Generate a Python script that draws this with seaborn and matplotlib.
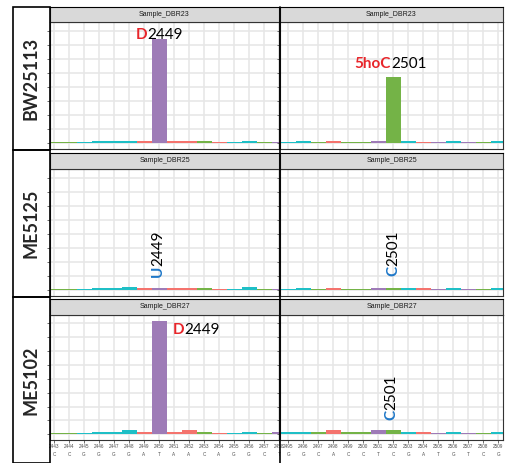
import pandas as pd
import matplotlib.pyplot as plt
import seaborn as sns
from matplotlib.patches import Rectangle
from matplotlib.lines import Line2D

strains = ["BW25113", "ME5125", "ME5102"]
samples = ["Sample_DBR23", "Sample_DBR25", "Sample_DBR27"]

left_pos = [2443, 2444, 2445, 2446, 2447, 2448, 2449, 2450,
            2451, 2452, 2453, 2454, 2455, 2456, 2457, 2458]
left_bases = ["C", "C", "G", "G", "G", "G", "A", "T",
              "A", "A", "C", "A", "G", "G", "C", "T"]
right_pos = [2495, 2496, 2497, 2498, 2499, 2500, 2501, 2502,
             2503, 2504, 2505, 2506, 2507, 2508, 2509]
right_bases = ["G", "G", "C", "A", "C", "C", "T", "C",
               "G", "A", "T", "G", "T", "C", "G"]

# signal per position (%), one list per panel
dbr23_left = [0.8, 0.8, 0.9, 1.8, 1.8, 1.8, 1.8, 74.0, 1.8, 1.8, 1.8, 0.8, 0.9, 1.8, 0.9, 0.9]
dbr23_right = [0.9, 1.8, 0.9, 1.8, 1.2, 1.2, 1.6, 47.0, 1.8, 0.8, 0.9, 1.8, 0.9, 0.9, 1.8]
dbr25_left = [0.8, 0.8, 0.9, 1.8, 1.6, 2.4, 1.8, 1.6, 1.8, 1.8, 1.6, 0.8, 0.9, 2.0, 1.2, 0.9]
dbr25_right = [1.2, 1.4, 1.2, 1.4, 1.2, 1.2, 1.4, 1.7, 1.4, 1.4, 0.9, 1.4, 0.9, 0.9, 1.4]
dbr27_left = [0.8, 0.8, 0.9, 2.0, 2.0, 3.2, 2.0, 82.0, 2.0, 3.2, 2.0, 0.8, 0.9, 2.0, 0.9, 1.7]
dbr27_right = [1.4, 1.4, 1.4, 3.2, 1.7, 1.7, 3.2, 3.2, 1.7, 2.0, 0.9, 1.7, 0.9, 0.9, 1.7]

# site labels: modification, site, colour of modification, x, y, vertical
site_mods = [["D", "5hoC"], ["U", "C"], ["D", "C"]]
site_nums = [["2449", "2501"], ["2449", "2501"], ["2449", "2501"]]
site_cols = [["#E8262B", "#E8262B"], ["#1F78C8", "#1F78C8"], ["#E8262B", "#1F78C8"]]
site_x = [[2449.2, 2501.84], [2449.95, 2502.0], [2451.66, 2501.85]]
site_y = [[74.3, 53.4], [17.5, 17.5], [72.3, 17.8]]
site_vert = [[False, False], [True, True], [False, True]]

palette = {"A": "#F4736D", "C": "#74B347", "G": "#1FBFC6", "T": "#9E7BB7"}

sns.set_style("whitegrid")
plt.rcParams['font.family'] = ['Lato', 'DejaVu Sans']

W, H = 508, 463
fig = plt.figure(figsize=(W / 100, H / 100), dpi=100)


def rect(x0, y0, x1, y1):
    return [x0 / W, 1 - y1 / H, (x1 - x0) / W, (y1 - y0) / H]


panel_y = [(22, 149), (169, 296), (315, 440)]
strip_y = [(7, 22), (153, 169), (299, 315)]
col_x = [(50, 279), (280, 503)]
xlims = [(2442.73, 2458.0), (2494.45, 2509.3)]
box_y = [(7, 150), (150, 297), (297, 463)]

values = [[dbr23_left, dbr23_right], [dbr25_left, dbr25_right], [dbr27_left, dbr27_right]]
positions = [left_pos, right_pos]
bases = [left_bases, right_bases]

for r in range(3):
    for c in range(2):
        df = pd.DataFrame({"pos": positions[c], "base": bases[c], "signal": values[r][c]})
        ax = fig.add_axes(rect(col_x[c][0], panel_y[r][0], col_x[c][1], panel_y[r][1]))
        sns.barplot(data=df, x="pos", y="signal", hue="base", palette=palette,
                    native_scale=True, width=1, dodge=False, saturation=1,
                    errorbar=None, legend=False, ax=ax,
                    edgecolor="none", linewidth=0)
        ax.set_xlim(*xlims[c])
        ax.set_ylim(-4.1, 86.1)
        ax.set_yticks(range(0, 90, 10))
        ax.set_xticks(positions[c])
        ax.grid(True, color="#E6E6E6", linewidth=1.1)
        ax.set_axisbelow(True)
        ax.set_xlabel("")
        ax.set_ylabel("")
        ax.set_yticklabels([])
        ax.tick_params(axis="y", length=2, width=0.5, color="#333333", left=True)
        if r == 2:
            ax.set_xticklabels([f"{p}\n{b}" for p, b in zip(positions[c], bases[c])],
                               fontsize=3.3, color="#4D4D4D", family="Liberation Sans",
                               linespacing=1.6)
            ax.tick_params(axis="x", length=2, width=0.5, color="#333333", pad=1, bottom=True)
        else:
            ax.set_xticklabels([])
            ax.tick_params(axis="x", length=0)
        for s in ax.spines.values():
            s.set_color("#333333")
            s.set_linewidth(0.8)

        mod = site_mods[r][c]
        num = site_nums[r][c]
        tx, ty = site_x[r][c], site_y[r][c]
        if site_vert[r][c]:
            ax.text(tx, ty, mod, rotation=90, ha="center", va="top", fontsize=11,
                    fontweight="bold", color=site_cols[r][c])
            ax.text(tx, ty, num, rotation=90, ha="center", va="bottom", fontsize=11,
                    color="black")
        else:
            ax.text(tx, ty, mod, ha="right", va="baseline", fontsize=11,
                    fontweight="bold", color=site_cols[r][c])
            ax.text(tx, ty, num, ha="left", va="baseline", fontsize=11, color="black")

        # facet strip
        st = fig.add_axes(rect(col_x[c][0], strip_y[r][0], col_x[c][1], strip_y[r][1]))
        st.set_facecolor("#D9D9D9")
        st.set_xticks([])
        st.set_yticks([])
        st.grid(False)
        for s in st.spines.values():
            s.set_color("#333333")
            s.set_linewidth(0.8)
        st.spines["top"].set_color("black")
        st.text(0.5, 0.5, samples[r], ha="center", va="center", fontsize=5,
                family="Liberation Sans", color="#1A1A1A", transform=st.transAxes)

    # strain label box
    y0, y1 = box_y[r]
    fig.add_artist(Rectangle((13 / W, 1 - y1 / H), 37 / W, (y1 - y0) / H,
                             transform=fig.transFigure, fill=False,
                             edgecolor="black", linewidth=1.2))
    fig.text(31 / W, 1 - ((y0 + y1) / 2) / H, strains[r], rotation=90,
             ha="center", va="center", fontsize=13, fontweight="bold")

fig.add_artist(Line2D([279.5 / W, 279.5 / W], [0, 1 - 7 / H],
                      transform=fig.transFigure, color="black", linewidth=1.2))

plt.savefig("out.png", dpi=100)
